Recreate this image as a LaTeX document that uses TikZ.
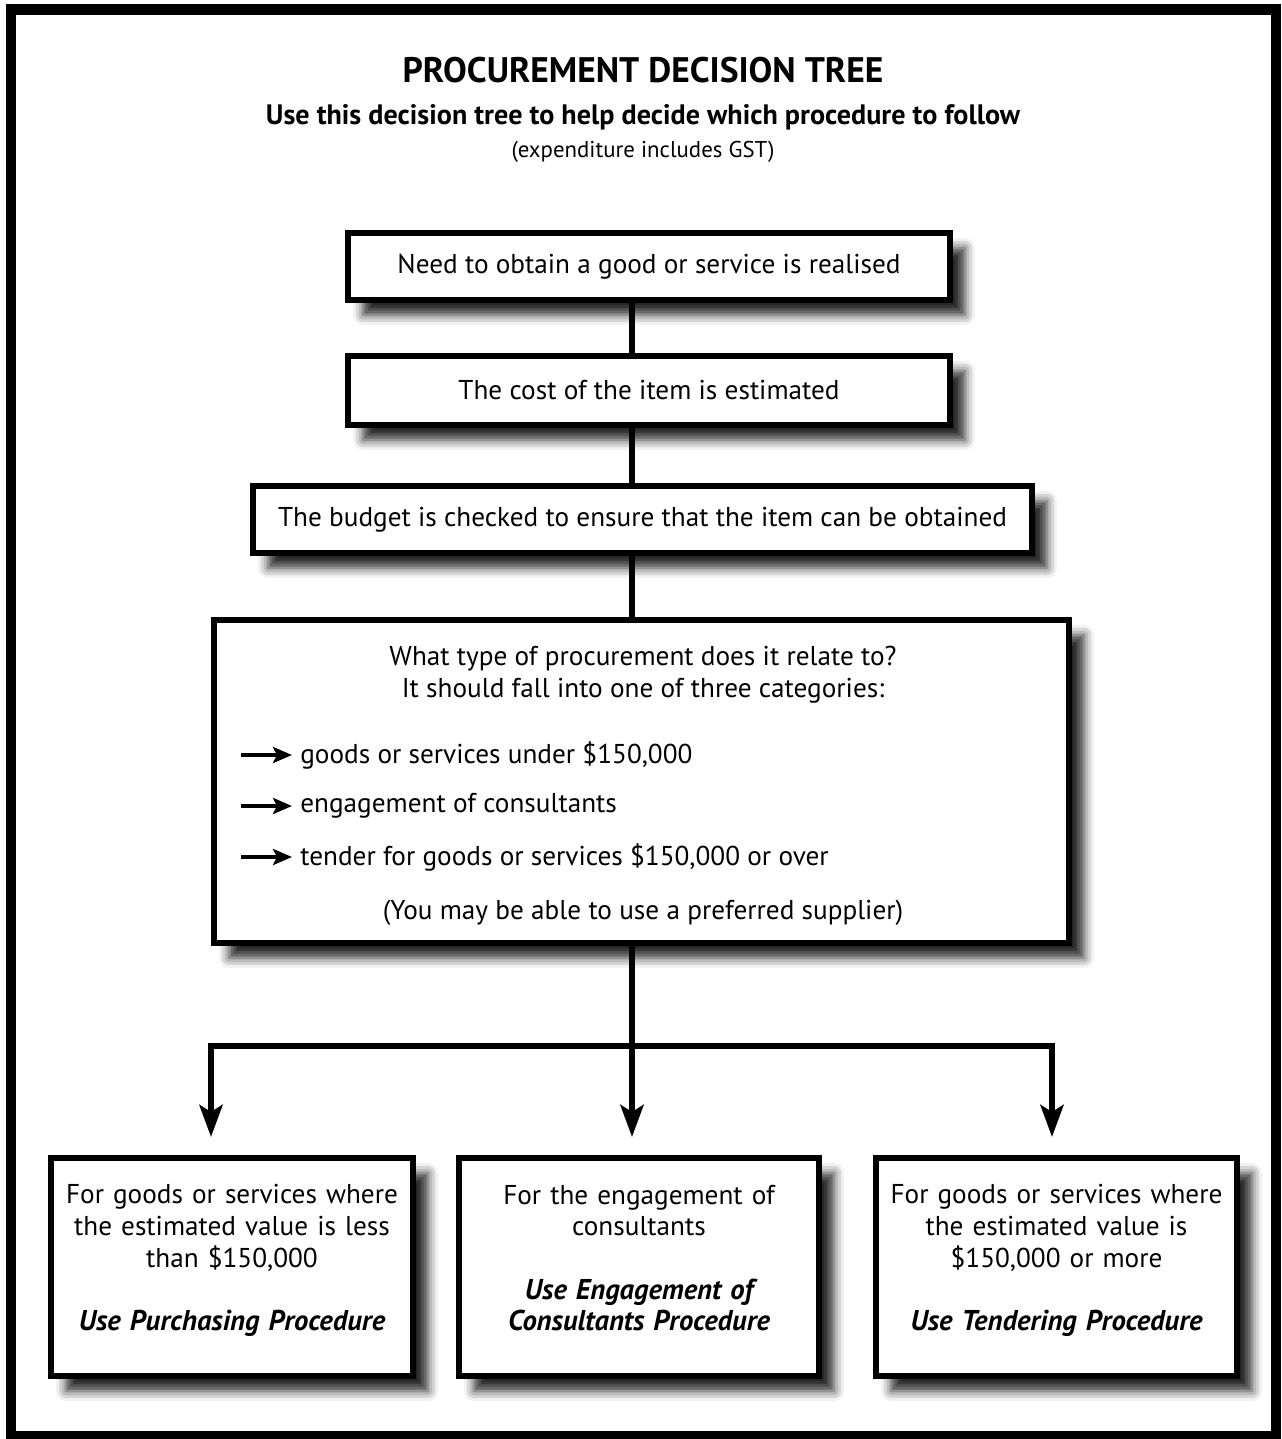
\documentclass[tikz,border=0pt]{standalone}
\usepackage{fontspec}
\setmainfont{PT Sans}
\usetikzlibrary{arrows.meta,shadows.blur,positioning,calc}
\newcommand{\procname}[1]{{\fontsize{16.3}{18}\selectfont\bfseries\itshape #1}}
\newcommand{\liftby}[1]{\par\nointerlineskip\kern#1\hbox{}}

\begin{document}
\begin{tikzpicture}[x=0.02cm, y=-0.02cm,
  stage/.style={draw, line width=3.4pt, fill=white, align=center, inner sep=0pt, font=\fontsize{15.5}{18}\selectfont,
    blur shadow={shadow xshift=0.3cm, shadow yshift=-0.3cm, shadow blur radius=0.2cm, shadow opacity=85}},
  outcome/.style={stage, text width=7cm, minimum height=4.36cm},
  body/.style={inner sep=0pt, font=\fontsize{15.5}{18}\selectfont},
  flow/.style={line width=3.4pt},
  down/.style={flow, -{Stealth[length=0.64cm, width=0.46cm, inset=0.14cm]}},
  tick/.style={line width=2.6pt, -{Stealth[length=0.38cm, width=0.32cm, inset=0.08cm]}}
]
  \useasboundingbox (0,0) rectangle (1281,1439);
  \draw[line width=5.7pt] (11,9.5) rectangle (1276,1436);

  \node[font=\fontsize{20.2}{24}\selectfont\bfseries] (title) at (643,70) {PROCUREMENT DECISION TREE};
  \node[font=\fontsize{16}{19}\selectfont\bfseries] (subtitle) at (643,117) {Use this decision tree to help decide which procedure to follow};
  \node[font=\fontsize{13}{15}\selectfont] (gst) at (643,152) {(expenditure includes GST)};

  \node[stage, minimum width=12.04cm, minimum height=1.34cm] (need) at (649,266.5) {Need to obtain a good or service is realised};
  \node[stage, minimum width=12.04cm, minimum height=1.38cm] (cost) at (649,390.5) {The cost of the item is estimated};
  \node[stage, minimum width=15.58cm, minimum height=1.34cm] (budget) at (642.5,519.5) {The budget is checked to ensure that the item can be obtained};
  \node[stage, minimum width=17.1cm, minimum height=6.46cm] (kind) at (641.5,781.5) {};

  \node[body] (ask) at (643,659) {What type of procurement does it relate to?};
  \node[body] (ask2) at (643,691) {It should fall into one of three categories:};
  \node[body, anchor=west] (opt1) at (300,755) {goods or services under \$150,000};
  \node[body, anchor=west] (opt2) at (300,806) {engagement of consultants};
  \node[body, anchor=west] (opt3) at (300,857) {tender for goods or services \$150,000 or over};
  \node[body] (pref) at (643,913) {(You may be able to use a preferred supplier)};
  \foreach \o in {opt1,opt2,opt3}
    \draw[tick] ([xshift=-1.18cm]\o.west) -- ([xshift=-0.16cm]\o.west);

  \node[outcome, minimum width=7.24cm] (under) at (232,1267) {For goods or services where\\ the estimated value is less\\ than \$150,000\\[18pt] \procname{Use Purchasing Procedure}\liftby{0.26cm}};
  \node[outcome, minimum width=7.2cm] (consult) at (639,1267) {For the engagement of\\ consultants\\[18pt] \procname{Use Engagement of}\\ \procname{Consultants Procedure}\liftby{0.36cm}};
  \node[outcome, minimum width=7.22cm] (tender) at (1056.5,1267) {For goods or services where\\ the estimated value is\\ \$150,000 or more\\[18pt] \procname{Use Tendering Procedure}\liftby{0.26cm}};

  \coordinate (spine) at (632,0);
  \coordinate (fork) at (632,1046);
  \coordinate (tipL) at (211,1137);
  \coordinate (tipM) at (632,1137);
  \coordinate (tipR) at (1052,1137);

  \draw[flow] (need.south -| spine) -- (cost.north -| spine);
  \draw[flow] (cost.south -| spine) -- (budget.north -| spine);
  \draw[flow] (budget.south -| spine) -- (kind.north -| spine);
  \draw[down] (kind.south -| spine) -- (tipM);
  \draw[down] (fork) -| (tipL);
  \draw[down] (fork) -| (tipR);
\end{tikzpicture}
\end{document}
